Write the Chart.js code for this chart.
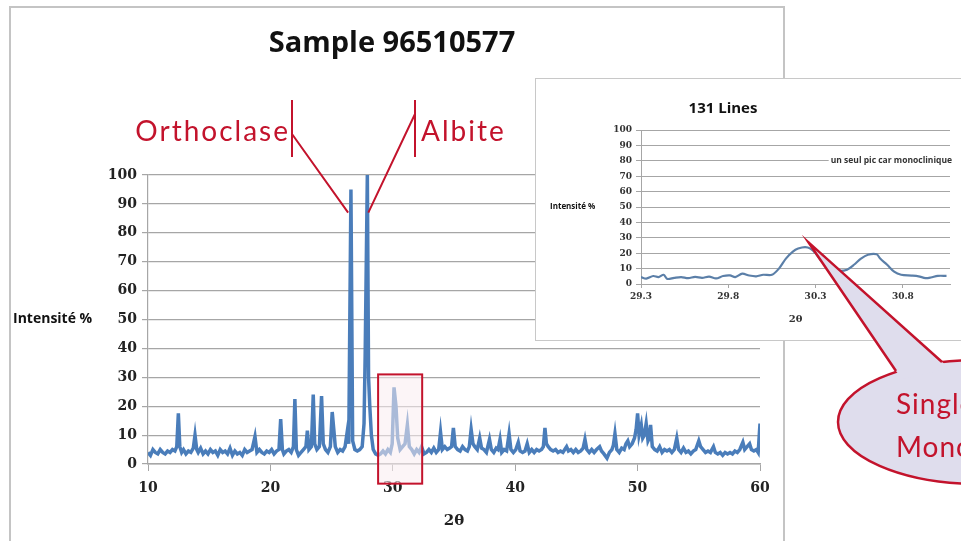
<!DOCTYPE html>
<html>
<head>
<meta charset="utf-8">
<script src="https://cdn.jsdelivr.net/npm/chart.js@4.4.1/dist/chart.umd.min.js"></script>
<style>
    body { margin: 0; background: #fff; width: 961px; height: 541px; overflow: hidden; position: relative; }
    #frame { position: absolute; left: 9px; top: 6px; width: 772px; height: 560px; border: 2px solid #c4c4c4; }
    #main { position: absolute; left: 0; top: 0; }
    #inset-box { position: absolute; left: 535px; top: 78px; width: 440px; height: 263px; border: 1px solid #c8c8c8; background: #fff; box-sizing: border-box; }
    #inset { position: absolute; left: 0; top: 0; }
    #overlay { position: absolute; left: 0; top: 0; pointer-events: none; }
</style>
</head>
<body>
<div id="frame"></div>
<canvas id="main" width="961" height="541"></canvas>
<div id="inset-box"><canvas id="inset" width="438" height="261"></canvas></div>
<canvas id="overlay" width="961" height="541"></canvas>

<script>
/* ### Data ### */

const MAIN_TITLE = 'Sample 96510577';
const INSET_TITLE = '131 Lines';
const Y_LABEL = 'Intensité %';
const X_LABEL = '2θ';

// Main pattern: 2θ positions and intensity (%)
const twoTheta = [
    10.0, 10.2, 10.4, 10.6, 10.8, 11.0, 11.2, 11.4, 11.6, 11.8, 12.0, 12.2, 12.35, 12.48, 12.6, 12.75, 12.9,
    13.1, 13.3, 13.5, 13.7, 13.84, 13.98, 14.1, 14.3, 14.5, 14.7, 14.9, 15.1, 15.3, 15.5, 15.7, 15.9,
    16.1, 16.3, 16.5, 16.7, 16.9, 17.1, 17.3, 17.5, 17.7, 17.9, 18.1, 18.3, 18.5, 18.74, 18.9,
    19.1, 19.3, 19.5, 19.7, 19.9, 20.1, 20.3, 20.5, 20.7, 20.84, 20.98, 21.1, 21.3, 21.5, 21.7, 21.88,
    22.0, 22.12, 22.3, 22.5, 22.7, 22.9, 23.02, 23.15, 23.35, 23.5, 23.62, 23.8, 24.0, 24.18, 24.32,
    24.5, 24.7, 24.9, 25.05, 25.18, 25.3, 25.5, 25.7, 25.9, 26.1, 26.27, 26.4, 26.58, 26.72, 26.9,
    27.1, 27.3, 27.5, 27.65, 27.74, 27.92, 28.02, 28.12, 28.25, 28.4, 28.6, 28.8, 29.0, 29.2, 29.4,
    29.6, 29.8, 29.95, 30.1, 30.26, 30.4, 30.6, 30.8, 31.0, 31.19, 31.35, 31.55, 31.75, 31.95, 32.15,
    32.35, 32.55, 32.75, 32.95, 33.15, 33.35, 33.55, 33.75, 33.9, 34.05, 34.25, 34.45, 34.65, 34.8,
    34.95, 35.1, 35.3, 35.5, 35.7, 35.9, 36.1, 36.25, 36.4, 36.55, 36.7, 36.9, 37.1, 37.25, 37.45,
    37.65, 37.9, 38.05, 38.25, 38.45, 38.6, 38.76, 38.9, 39.1, 39.3, 39.5, 39.65, 39.85, 40.05, 40.25,
    40.4, 40.6, 40.8, 40.98, 41.15, 41.35, 41.55, 41.75, 41.95, 42.15, 42.3, 42.43, 42.55, 42.7, 42.9,
    43.1, 43.3, 43.5, 43.7, 43.9, 44.05, 44.2, 44.35, 44.55, 44.75, 44.95, 45.15, 45.35, 45.55, 45.7,
    45.85, 46.05, 46.25, 46.45, 46.65, 46.9, 47.05, 47.25, 47.5, 47.7, 47.9, 48.02, 48.15, 48.3, 48.5,
    48.7, 48.9, 49.05, 49.2, 49.35, 49.55, 49.75, 49.88, 50.0, 50.12, 50.3, 50.42, 50.55, 50.7, 50.85,
    50.96, 51.06, 51.2, 51.4, 51.6, 51.8, 52.0, 52.2, 52.4, 52.6, 52.8, 53.0, 53.2, 53.35, 53.55,
    53.75, 53.95, 54.15, 54.35, 54.55, 54.75, 55.0, 55.15, 55.35, 55.55, 55.75, 55.95, 56.2, 56.35, 56.55,
    56.75, 56.95, 57.15, 57.35, 57.55, 57.75, 57.95, 58.15, 58.35, 58.6, 58.75, 58.95, 59.15, 59.3, 59.5,
    59.7, 59.85, 60.0
];
const intensity = [
    4, 3, 5, 4, 3.5, 5, 4, 3.5, 4.5, 4, 5, 4.5, 6, 17.5, 6, 4, 5,
    3.5, 4.5, 4, 5.5, 10, 5, 4, 5.5, 3.5, 4.5, 3.5, 5, 4, 4.5, 3, 5,
    4, 4.5, 3.5, 5.5, 3, 4.5, 3.5, 4, 3, 5, 4, 4.5, 5, 9.5, 4,
    5, 4, 3.5, 4.5, 4, 5, 3.5, 4.5, 5, 15.5, 5, 3.5, 4.5, 5, 4, 6,
    22.5, 5, 3, 4, 5, 6, 11.5, 5, 6, 24, 7, 5, 6, 23.5, 7,
    5, 4, 6, 18, 12, 6, 4, 5, 4.5, 6, 11, 7, 95, 8, 5,
    4.5, 5, 6, 14, 37, 100, 30, 20, 10, 5, 3.5, 3, 3.5, 4.5, 3.5,
    5, 4, 7, 26.5, 20, 9, 5, 6, 7, 13.5, 6, 5, 3.5, 5, 4,
    6, 3.5, 4, 5, 4, 5.5, 4, 5, 11, 5, 6, 5, 5.5, 6,
    12.5, 6, 5, 4.5, 6, 5, 4.5, 6, 12, 7, 6, 5, 9, 5.5, 5,
    4, 8.5, 5, 4, 5.5, 5, 8.5, 4, 5, 4.5, 10.5, 5, 4, 5, 7.5,
    4.5, 4, 4.5, 7, 4, 5, 4, 5, 4.5, 5, 6, 12.5, 7, 6, 5,
    4.5, 5, 4, 4.5, 4, 5, 6, 4.5, 5, 4, 5, 4, 4.5, 5.5, 8.5,
    5, 4, 5, 4, 5, 6, 4.5, 3.5, 2, 4, 5, 6.5, 10.5, 5, 4,
    5.5, 5, 7, 8, 6, 7, 9, 12, 17.5, 10, 13.5, 9, 10, 14, 8,
    9, 13.5, 6, 5, 4.5, 6, 4, 5, 4.5, 5, 4, 5, 9, 5, 4,
    5.5, 4, 4.5, 3.5, 4.5, 5, 8, 6, 5, 4, 4.5, 4, 6, 4, 3.5,
    4, 3, 4, 3.5, 4, 3.5, 4.5, 4, 5, 7.5, 5, 6, 7, 5, 4.5,
    5, 4, 14
];

// Inset: zoom on the 29.3 - 31.1 window
const insetTheta = [
    29.30, 29.33, 29.37, 29.40, 29.43, 29.45, 29.49, 29.53, 29.57, 29.61, 29.65, 29.69, 29.73, 29.77,
    29.81, 29.84, 29.88, 29.92, 29.96, 30.00, 30.05, 30.09, 30.13, 30.17, 30.20, 30.24, 30.27, 30.30,
    30.33, 30.37, 30.41, 30.44, 30.48, 30.52, 30.56, 30.60, 30.65, 30.67, 30.71, 30.75, 30.79, 30.85,
    30.89, 30.93, 30.96, 31.00, 31.05
];
const insetIntensity = [
    4.5, 3.5, 5.2, 4.5, 6, 3.3, 4, 4.5, 3.8, 4.6, 4, 4.8, 3.6, 5.2,
    5.6, 4.5, 6.7, 5.5, 5, 6, 6, 10, 16.5, 21, 23, 24, 23, 20,
    15.5, 12.5, 9.3, 8.5, 9.3, 12.5, 16.5, 19, 19.3, 16.5, 12.5, 8, 6, 5.5,
    5, 3.8, 4.2, 5.3, 5.3
];

const INSET_NOTE = 'un seul pic car monoclinique';
const MINERALS = ['Orthoclase', 'Albite'];
const CALLOUT_LINES = ['Single peak', 'Monoclinic'];

/* ### Styles ### */

const RED = '#c3132c';
const BLUE = '#4a7dba';
const GRID = '#a6a6a6';
const TICK_FONT = 'DejaVu Serif';
const LABEL_FONT = 'Open Sans';

/* ### Main chart ### */

const mainAnnotations = {
    id: 'mainAnnotations',
    afterDatasetsDraw(chart) {
        const ctx = chart.ctx;
        const x = chart.scales.x;
        const y = chart.scales.y;

        // highlight box around the 30 degree group
        const bx1 = x.getPixelForValue(28.8), bx2 = x.getPixelForValue(32.4);
        const by1 = y.getPixelForValue(31), by2 = y.getPixelForValue(-6.8);
        ctx.save();
        ctx.fillStyle = 'rgba(250, 236, 240, 0.55)';
        ctx.fillRect(bx1, by1, bx2 - bx1, by2 - by1);
        ctx.strokeStyle = RED;
        ctx.lineWidth = 2;
        ctx.strokeRect(bx1, by1, bx2 - bx1, by2 - by1);
        ctx.restore();
    },
    afterDraw(chart) {
        const ctx = chart.ctx;
        const x = chart.scales.x;
        const y = chart.scales.y;

        ctx.save();
        // title
        ctx.fillStyle = '#111';
        ctx.font = 'bold 29px "' + LABEL_FONT + '"';
        ctx.textAlign = 'center';
        ctx.textBaseline = 'middle';
        ctx.fillText(MAIN_TITLE, 392, 44);

        // horizontal y label
        ctx.font = 'bold 14px "' + LABEL_FONT + '"';
        ctx.textAlign = 'left';
        ctx.fillText(Y_LABEL, 13, y.getPixelForValue(50));

        // mineral labels with leader lines
        const tipO = [x.getPixelForValue(26.35), y.getPixelForValue(87)];
        const tipA = [x.getPixelForValue(28.0), y.getPixelForValue(87)];
        ctx.strokeStyle = RED;
        ctx.fillStyle = RED;
        ctx.lineWidth = 2;
        ctx.font = '28px Lato';
        ctx.letterSpacing = '2px';
        ctx.textBaseline = 'alphabetic';
        ctx.textAlign = 'right';
        ctx.fillText(MINERALS[0], 290, 141);
        ctx.textAlign = 'left';
        ctx.fillText(MINERALS[1], 421, 141);
        ctx.letterSpacing = '0px';

        ctx.beginPath();
        ctx.moveTo(292, 100); ctx.lineTo(292, 157);
        ctx.moveTo(292, 134); ctx.lineTo(tipO[0], tipO[1]);
        ctx.moveTo(415, 100); ctx.lineTo(415, 157);
        ctx.moveTo(415, 114); ctx.lineTo(tipA[0], tipA[1]);
        ctx.stroke();
        ctx.restore();
    }
};

const mainChart = new Chart(document.getElementById('main'), {
    type: 'line',
    data: {
        datasets: [{
            data: twoTheta.map((t, i) => ({ x: t, y: intensity[i] })),
            borderColor: BLUE,
            borderWidth: 3.5,
            pointRadius: 0,
            tension: 0,
            fill: false
        }]
    },
    options: {
        responsive: false,
        animation: false,
        layout: { padding: { left: 95, top: 175, right: 201, bottom: 10 } },
        plugins: { legend: { display: false }, tooltip: { enabled: false } },
        scales: {
            x: {
                type: 'linear',
                min: 10,
                max: 60,
                afterFit: (s) => { s.height = 67; },
                ticks: { stepSize: 10, padding: 9, color: '#222', font: { family: TICK_FONT, weight: 'bold', size: 14 } },
                grid: { drawOnChartArea: false, drawTicks: true, tickLength: 7, color: GRID },
                border: { display: true, color: GRID, width: 1.5 },
                title: { display: true, text: X_LABEL, color: '#222', padding: { top: 0, bottom: 1 }, font: { family: TICK_FONT, weight: 'bold', size: 15 } }
            },
            y: {
                min: 0,
                max: 100,
                afterFit: (s) => { s.width = 53; },
                ticks: { stepSize: 10, padding: 5, color: '#222', font: { family: TICK_FONT, weight: 'bold', size: 14 } },
                grid: { color: GRID, lineWidth: 1.2, tickLength: 6 },
                border: { display: true, color: GRID, width: 1.2 }
            }
        }
    },
    plugins: [mainAnnotations]
});

/* ### Inset chart ### */

const insetAnnotations = {
    id: 'insetAnnotations',
    afterDraw(chart) {
        const ctx = chart.ctx;
        const y = chart.scales.y;
        ctx.save();
        ctx.fillStyle = '#111';
        ctx.textBaseline = 'middle';
        ctx.font = 'bold 15px "' + LABEL_FONT + '"';
        ctx.textAlign = 'center';
        ctx.fillText(INSET_TITLE, 187, 30);

        ctx.font = 'bold 8px "' + LABEL_FONT + '"';
        ctx.textAlign = 'left';
        ctx.fillText(Y_LABEL, 14, y.getPixelForValue(50));

        ctx.font = 'bold 8.5px "' + LABEL_FONT + '"';
        ctx.textAlign = 'right';
        const w = ctx.measureText(INSET_NOTE).width;
        const nx = chart.chartArea.right + 2;
        const ny = y.getPixelForValue(80);
        ctx.fillStyle = '#fff';
        ctx.fillRect(nx - w - 2, ny - 5, w + 4, 10);
        ctx.fillStyle = '#333';
        ctx.fillText(INSET_NOTE, nx, ny);
        ctx.restore();
    }
};

const insetChart = new Chart(document.getElementById('inset'), {
    type: 'line',
    data: {
        datasets: [{
            data: insetTheta.map((t, i) => ({ x: t, y: insetIntensity[i] })),
            borderColor: '#5b7fa8',
            borderWidth: 2.2,
            pointRadius: 0,
            tension: 0.3,
            fill: false
        }]
    },
    options: {
        responsive: false,
        animation: false,
        layout: { padding: { left: 65, top: 51, right: 24, bottom: 5 } },
        plugins: { legend: { display: false }, tooltip: { enabled: false } },
        scales: {
            x: {
                type: 'linear',
                min: 29.3,
                max: 31.07,
                afterFit: (s) => { s.height = 51; },
                afterBuildTicks: (s) => { s.ticks = [29.3, 29.8, 30.3, 30.8].map(v => ({ value: v })); },
                ticks: { padding: 3, color: '#333', font: { family: TICK_FONT, weight: 'bold', size: 9 }, callback: (v) => v.toFixed(1) },
                grid: { drawOnChartArea: false, drawTicks: true, tickLength: 4, color: GRID },
                border: { display: true, color: GRID },
                title: { display: true, text: X_LABEL, color: '#333', padding: { top: 0, bottom: 10 }, font: { family: TICK_FONT, weight: 'bold', size: 10 } }
            },
            y: {
                min: 0,
                max: 100,
                afterFit: (s) => { s.width = 40; },
                ticks: { stepSize: 10, padding: 4, color: '#333', font: { family: TICK_FONT, weight: 'bold', size: 9 } },
                grid: { color: GRID, lineWidth: 1, tickLength: 5 },
                border: { display: true, color: GRID }
            }
        }
    },
    plugins: [insetAnnotations]
});

/* ### Callout bubble ### */

function drawCallout() {
    const ctx = document.getElementById('overlay').getContext('2d');
    const tip = [
        536 + insetChart.scales.x.getPixelForValue(30.26),
        79 + insetChart.scales.y.getPixelForValue(27)
    ];
    const base1 = [896, 371];
    const base2 = [942, 362];

    ctx.save();
    ctx.fillStyle = '#dfdded';
    ctx.strokeStyle = RED;
    ctx.lineWidth = 2.5;

    ctx.beginPath();
    ctx.ellipse(980, 422, 142, 62, 0, 0, Math.PI * 2);
    ctx.fill();
    ctx.stroke();

    ctx.beginPath();
    ctx.moveTo(base1[0] + 6, base1[1] + 8);
    ctx.lineTo(base1[0], base1[1]);
    ctx.lineTo(tip[0], tip[1]);
    ctx.lineTo(base2[0], base2[1]);
    ctx.lineTo(base2[0] + 8, base2[1] + 6);
    ctx.closePath();
    ctx.fill();

    ctx.beginPath();
    ctx.moveTo(base1[0], base1[1]);
    ctx.lineTo(tip[0], tip[1]);
    ctx.lineTo(base2[0], base2[1]);
    ctx.stroke();

    ctx.fillStyle = RED;
    ctx.font = '28px Lato';
    ctx.letterSpacing = '1px';
    ctx.textAlign = 'left';
    ctx.textBaseline = 'alphabetic';
    ctx.fillText(CALLOUT_LINES[0], 896, 414);
    ctx.fillText(CALLOUT_LINES[1], 896, 457);
    ctx.restore();
}

drawCallout();
</script>
</body>
</html>
